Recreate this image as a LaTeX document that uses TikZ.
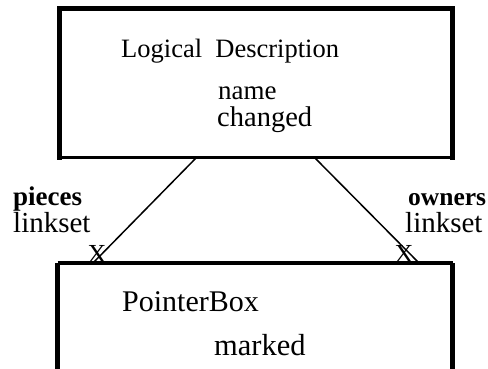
\documentclass[tikz,border=0pt]{standalone}
\usepackage{fontspec}
\setmainfont{Liberation Serif}
\begin{document}
\begin{tikzpicture}[x=1pt,y=-1pt,
  lbl/.style={anchor=base west,inner sep=0pt,font=\fontsize{27}{30}\selectfont},
  blbl/.style={lbl,font=\fontsize{27}{30}\selectfont\bfseries},
  boxline/.style={line width=5pt},
  thinline/.style={line width=3.2pt},
  conn/.style={line width=1.5pt},
  xmark/.style={anchor=base,inner sep=0pt,font=\fontsize{26}{28}\selectfont}]
\useasboundingbox (0,0) rectangle (488,369);
\clip (0,0) rectangle (488,369);
% top box
\coordinate (ldnw) at (59,9);
\coordinate (ldne) at (452.5,9);
\coordinate (ldsw) at (59,157.5);
\coordinate (ldse) at (452.5,157.5);
\draw[thinline] (ldsw) -- (ldse);
\draw[boxline,line cap=rect] (ldsw) -- (ldnw) -- (ldne) -- (ldse);
% bottom box
\coordinate (pbnw) at (57.5,263);
\coordinate (pbne) at (452.5,263);
\coordinate (pbsw) at (57.5,375);
\coordinate (pbse) at (452.5,375);
\draw[thinline] (pbnw) -- (pbne);
\draw[boxline] (pbnw) -- (pbsw);
\draw[boxline] (pbne) -- (pbse);
% texts
\node[lbl,font=\fontsize{26.5}{30}\selectfont] (t1) at (121,58) {Logical\ \ Description};
\node[lbl] (t2) at (218,100) {name};
\node[lbl,font=\fontsize{28.5}{30}\selectfont] (t3) at (217,127) {changed};
\node[lbl,font=\fontsize{30}{30}\selectfont] (t4) at (122,311) {PointerBox};
\node[lbl,font=\fontsize{30.5}{30}\selectfont] (t5) at (214,355) {marked};
\node[blbl] (p1) at (13,205) {pieces};
\node[lbl,font=\fontsize{29}{30}\selectfont] (p2) at (13,233) {linkset};
\node[blbl,font=\fontsize{25.5}{30}\selectfont\bfseries] (o1) at (408,205) {owners};
\node[lbl,font=\fontsize{29}{30}\selectfont] (o2) at (405,233) {linkset};
% connectors
\coordinate (c1) at (196,158);
\coordinate (c2) at (93,263);
\coordinate (c3) at (315,158);
\coordinate (c4) at (419,263);
\draw[conn] (c1) -- (c2);
\draw[conn] (c3) -- (c4);
\node[xmark] (x1) at (97,262) {X};
\node[xmark] (x2) at (404,262) {X};
\end{tikzpicture}
\end{document}
